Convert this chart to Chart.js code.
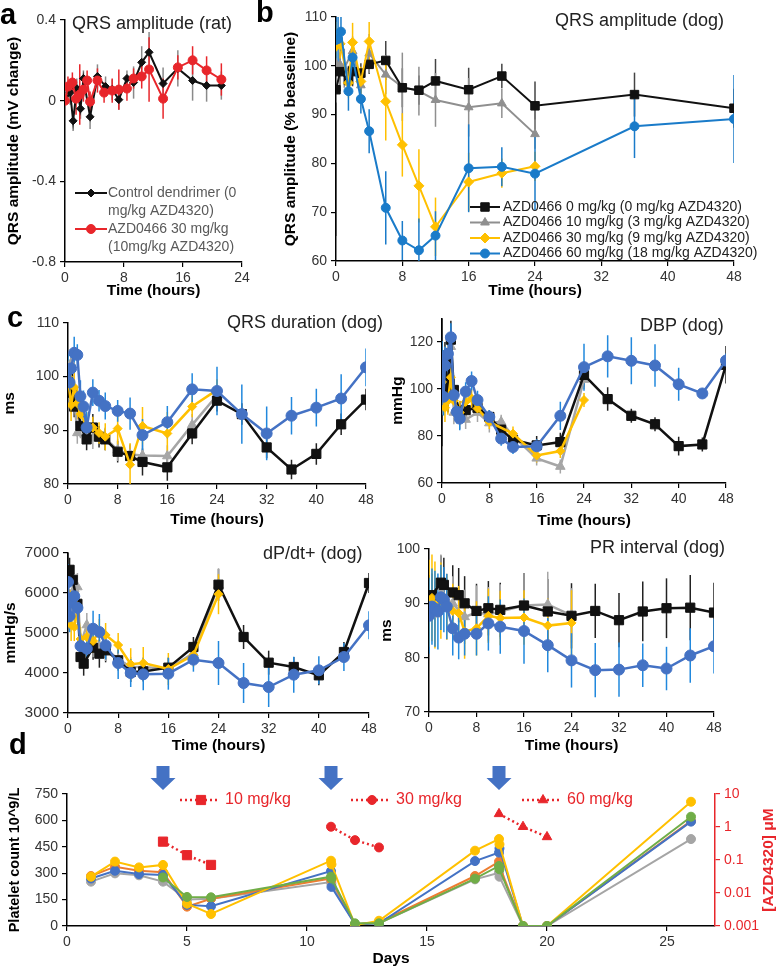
<!DOCTYPE html>
<html>
<head>
<meta charset="utf-8">
<script src="https://cdn.jsdelivr.net/npm/chart.js@4.4.1/dist/chart.umd.min.js"></script>
<style>
  body { margin: 0; width: 778px; height: 968px; position: relative; overflow: hidden; background: #fff;
         font-family: "Liberation Sans", Arial, sans-serif; }
  .box { position: absolute; }
  .letter { position: absolute; font-size: 29px; font-weight: bold; line-height: 1; color: #000; }
  .ttl { position: absolute; font-size: 18px; line-height: 1; color: #222; white-space: nowrap; }
</style>
</head>
<body>
<div class="box" style="left:0;top:0;width:262px;height:300px"><canvas id="ca"></canvas></div>
<div class="box" style="left:262px;top:0;width:516px;height:300px"><canvas id="cb"></canvas></div>
<div class="box" style="left:0;top:305px;width:390px;height:228px"><canvas id="c1"></canvas></div>
<div class="box" style="left:384px;top:305px;width:394px;height:228px"><canvas id="c2"></canvas></div>
<div class="box" style="left:0;top:535px;width:390px;height:224px"><canvas id="c3"></canvas></div>
<div class="box" style="left:376px;top:535px;width:402px;height:224px"><canvas id="c4"></canvas></div>
<div class="box" style="left:0;top:760px;width:778px;height:208px"><canvas id="cd"></canvas></div>

<div class="letter" style="left:0;top:0">a</div>
<div class="letter" style="left:256px;top:-2px">b</div>
<div class="letter" style="left:7px;top:303px">c</div>
<div class="letter" style="left:9px;top:730px">d</div>

<div class="ttl" style="left:72px;top:14px">QRS amplitude (rat)</div>
<div class="ttl" style="left:555px;top:11px">QRS amplitude (dog)</div>
<div class="ttl" style="left:227px;top:313px">QRS duration (dog)</div>
<div class="ttl" style="left:640px;top:316px">DBP (dog)</div>
<div class="ttl" style="left:263px;top:544px">dP/dt+ (dog)</div>
<div class="ttl" style="left:590px;top:538px">PR interval (dog)</div>

<script>
Chart.defaults.font.family = '"Liberation Sans", Arial, sans-serif';
Chart.defaults.color = '#333';

// ---- a: QRS amplitude (rat) ----
const aTicksY   = [-0.8, -0.4, 0, 0.4];
const aTimeCtrl = [0, 0.7, 1.1, 1.6, 2.1, 2.5, 3.4, 4.4, 5.5, 6.4, 7.3, 8.4, 9.3, 10.4, 11.4, 13.3, 15.3, 17.3, 19.2, 21.2];
const aCtrl     = [0, 0.04, -0.10, 0.06, -0.04, 0.11, -0.08, 0.12, 0.07, 0.055, 0.005, 0.11, 0.09, 0.19, 0.24, 0.085, 0.16, 0.10, 0.075, 0.075];
const aCtrlErr  = [0, 0.06, 0.05, 0.05, 0.05, 0.04, 0.06, 0.06, 0.05, 0.05, 0.05, 0.04, 0.08, 0.08, 0.1, 0.08, 0.09, 0.1, 0.08, 0.07];
const aTimeDrug = [0, 0.4, 1.0, 1.5, 2.0, 2.5, 3.0, 3.4, 4.4, 5.3, 6.4, 7.3, 8.4, 9.3, 10.4, 11.4, 13.3, 15.3, 17.3, 19.2, 21.2];
const aDrug     = [0, 0.07, 0.09, 0.01, 0.03, 0.055, 0.10, -0.005, 0.10, 0.04, 0.05, 0.055, 0.06, 0.11, 0.12, 0.155, 0.01, 0.165, 0.20, 0.15, 0.105];
const aDrugErr  = [0, 0.05, 0.05, 0.08, 0.15, 0.06, 0.05, 0.05, 0.06, 0.05, 0.06, 0.1, 0.06, 0.05, 0.06, 0.16, 0.1, 0.06, 0.07, 0.07, 0.08];

// ---- b: QRS amplitude (dog) ----
const bTimeBlk = [0, 0.5, 1.5, 2, 3, 4, 6, 8, 10, 12, 16, 20, 24, 36, 48];
const bBlk     = [95.1, 98.8, 97.0, 98.8, 98.5, 100.3, 101.1, 95.5, 95.0, 96.9, 95.1, 97.9, 91.8, 94.1, 91.3];
const bBlkErr  = [30, 4, 3, 3, 2, 2, 4, 4, 3, 4.5, 4.5, 2.5, 5, 4.5, 4];
const bTimeGry = [0, 0.5, 1, 2, 3, 4, 6, 8, 10, 12, 16, 20, 24];
const bGry     = [100.5, 100.2, 99.5, 103.0, 96.0, 102.5, 98.2, 95.7, 94.8, 93.0, 91.5, 92.3, 86.0];
const bGryErr  = [8, 5, 4, 3, 3, 4, 4, 7, 5, 5.5, 6, 3, 3];
const bTimeYel = [0, 0.5, 1.5, 2, 3, 4, 6, 8, 10, 12, 16, 20, 24];
const bYel     = [104.0, 104.5, 96.5, 104.8, 96.8, 105.0, 92.7, 83.8, 75.4, 67.0, 76.2, 78.0, 79.4];
const bYelErr  = [5, 3, 3, 4, 3, 4, 8, 6.5, 7.5, 6, 6, 3, 3];
const bTimeBlu = [0, 0.25, 0.6, 1.5, 2, 3, 4, 6, 8, 10, 12, 16, 20, 24, 36, 48];
const bBlu     = [105.3, 105.5, 107.0, 94.8, 101.7, 93.2, 86.6, 70.9, 64.2, 62.2, 65.2, 79.0, 79.3, 77.9, 87.6, 89.1];
const bBluErr  = [5, 5, 4, 4, 3, 3, 4.5, 7.5, 4, 6.5, 5, 9, 4, 7.5, 6.5, 9];

// ---- c: QRS duration (dog) ----
const qTimeBlk = [0, 0.5, 1, 1.5, 2, 3, 4, 5, 6, 8, 10, 12, 16, 20, 24, 28, 32, 36, 40, 44, 48];
const qBlk     = [100.2, 97.0, 94.4, 95.5, 90.8, 88.3, 90.5, 88.8, 88.3, 86.0, 85.2, 84.1, 83.1, 89.4, 95.5, 93.0, 86.8, 82.7, 85.6, 91.1, 95.7];
const qBlkErr  = [2, 2, 2, 2, 2, 2, 2.5, 2, 2, 2, 2, 2.5, 2.5, 2, 2, 2, 2, 1.8, 2, 2, 2];
const qTimeGry = [0, 0.5, 1, 1.5, 2, 3, 4, 6, 8, 10, 12, 16, 20, 24];
const qGry     = [101, 102.5, 96, 89.5, 90.5, 89.5, 88.5, 88.5, 86.3, 85.5, 85.3, 85.2, 91, 96.5];
const qGryErr  = [2.5, 2.5, 2.5, 2, 2, 2, 2, 2, 2, 2, 2, 2, 2, 2];
const qTimeYel = [0, 0.5, 1, 1.5, 2, 3, 4, 5, 6, 8, 10, 12, 16, 20, 24];
const qYel     = [100, 94.7, 98, 95, 93, 90.8, 90.5, 89.5, 88.8, 90.3, 83.6, 90.8, 89.4, 94.4, 97.5];
const qYelErr  = [3, 3, 3, 3, 2.5, 2.5, 2, 2, 2.5, 3, 4, 3.5, 4, 2, 2];
const qTimeBlu = [0, 0.25, 0.5, 1, 1.5, 2, 2.5, 3, 4, 5, 6, 8, 10, 12, 16, 20, 24, 28, 32, 36, 40, 44, 48];
const qBlu     = [101.2, 98.9, 101.5, 104.4, 104.0, 96.3, 94.4, 90.5, 97.0, 95.5, 94.5, 93.6, 93.1, 89.1, 91.5, 97.6, 97.3, 93.0, 89.4, 92.7, 94.2, 95.9, 101.7];
const qBluErr  = [3, 3, 3, 3, 2, 3, 3, 3, 2.5, 2, 2.5, 2, 3, 3, 3, 3, 4.5, 5.5, 5, 3.5, 3.5, 4.5, 3.5];

// ---- c: DBP (dog) ----
const dbTicksY  = [60, 80, 100, 120];
const dbTimeBlk = [0, 0.5, 1, 1.5, 2, 3, 4, 6, 8, 10, 12, 16, 20, 24, 28, 32, 36, 40, 44, 48];
const dbBlk     = [105.6, 110, 100, 121, 99.6, 89.9, 91, 92, 88.1, 82.7, 78.4, 76, 77.4, 106, 95.7, 88.6, 85, 75.7, 76.4, 110.3];
const dbBlkErr  = [30, 10, 10, 8, 6, 5, 4, 3, 3, 3, 3, 4, 4, 5, 5, 3, 3, 4, 3, 8];
const dbTimeGry = [0, 0.5, 1, 1.5, 2, 3, 4, 6, 8, 10, 12, 16, 20, 24];
const dbGry     = [97, 110, 100, 118, 90, 88, 87, 90, 85.5, 86, 80, 70.5, 67, 104];
const dbGryErr  = [8, 8, 6, 6, 5, 5, 4, 4, 4, 3, 3, 3, 3, 4];
const dbTimeYel = [0, 0.5, 1, 1.5, 2, 3, 4, 5, 6, 8, 12, 16, 20, 24];
const dbYel     = [103, 92, 95, 105, 95, 90, 94.5, 96, 91.7, 86, 81, 71.7, 73.6, 95.3];
const dbYelErr  = [8, 6, 6, 6, 5, 5, 4, 4, 3, 3, 3, 3, 3, 3];
const dbTimeBlu = [0, 0.25, 0.5, 1, 1.5, 2, 2.5, 3, 4, 5, 6, 8, 10, 12, 16, 20, 24, 28, 32, 36, 40, 44, 48];
const dbBlu     = [112.4, 96.7, 110, 115, 122, 97.4, 90.3, 87.4, 98.9, 103.4, 95.3, 88.1, 78.9, 75.3, 75.6, 88.6, 109.3, 113.9, 112, 110, 102, 98.1, 112.1];
const dbBluErr  = [8, 8, 8, 8, 6, 6, 5, 5, 4, 4, 4, 3, 3, 3, 3, 6, 10, 9, 10, 9, 7, 2, 3];

// ---- c: dP/dt+ (dog) ----
const dpTimeBlk = [0, 0.25, 0.75, 1.5, 2, 2.5, 4, 5, 6, 8, 10, 12, 16, 20, 24, 28, 32, 36, 40, 44, 48];
const dpBlk     = [6550, 6580, 6330, 5730, 4400, 4233, 4633, 4483, 4567, 4317, 4025, 4040, 4133, 4650, 6208, 4900, 4258, 4150, 3942, 4525, 6250];
const dpBlkErr  = [450, 300, 300, 300, 250, 300, 300, 350, 300, 250, 250, 250, 250, 250, 400, 300, 300, 250, 250, 250, 250];
const dpTimeGry = [0, 0.5, 1, 1.5, 2, 3, 4, 5, 6, 8, 10, 12, 16, 20, 24];
const dpGry     = [5900, 5500, 6100, 6150, 4700, 5200, 4700, 4650, 4600, 4350, 4150, 4150, 4100, 4500, 6200];
const dpGryErr  = [400, 400, 350, 350, 300, 300, 300, 300, 300, 300, 250, 250, 250, 250, 400];
const dpTimeYel = [0, 0.5, 1, 1.5, 2, 3, 4, 5, 6, 8, 10, 12, 16, 20, 24];
const dpYel     = [6000, 5200, 5150, 5600, 4850, 4900, 4800, 5050, 4950, 4700, 4220, 4250, 4100, 4450, 5970];
const dpYelErr  = [400, 400, 350, 350, 300, 300, 300, 300, 300, 300, 400, 400, 400, 300, 500];
const dpTimeBlu = [0, 0.25, 0.5, 1, 1.5, 2, 3, 4, 5, 6, 8, 10, 12, 16, 20, 24, 28, 32, 36, 40, 44, 48];
const dpBlu     = [6275, 5420, 5780, 5920, 5630, 4675, 4608, 5108, 5025, 4690, 4250, 4000, 3967, 3983, 4333, 4250, 3750, 3650, 3958, 4067, 4400, 5192];
const dpBluErr  = [450, 400, 300, 300, 300, 300, 250, 450, 450, 350, 400, 350, 400, 400, 300, 550, 500, 500, 450, 350, 350, 350];

// ---- c: PR interval (dog) ----
const prTimeBlk = [0, 0.5, 2, 2.5, 4, 5, 6, 8, 10, 12, 16, 20, 24, 28, 32, 36, 40, 44, 48];
const prBlk     = [91.2, 91.5, 93.8, 93.4, 92, 91.5, 90, 88.6, 89.1, 88.8, 89.6, 88.5, 87.7, 88.6, 86.9, 88.5, 89.1, 89.2, 88.3];
const prBlkErr  = [4, 4, 5, 5, 5, 5, 5, 5, 5, 5, 6, 6, 6, 5, 5, 5.5, 5.5, 6, 5.5];
const prTimeGry = [0, 1, 2, 3, 4, 6, 8, 10, 12, 16, 20, 24];
const prGry     = [88, 88, 93, 90.5, 90, 87.5, 88.3, 88, 88.5, 89.6, 89.8, 87.8];
const prGryErr  = [6, 6, 6, 5, 5, 5, 5, 5, 5, 6, 6, 5];
const prTimeYel = [0, 0.5, 1, 2, 3, 4, 5, 6, 8, 10, 12, 16, 20, 24];
const prYel     = [90, 91, 89.7, 90.5, 89.3, 88.6, 88.2, 84.8, 85.4, 87.7, 87.3, 87.4, 85.9, 86.4];
const prYelErr  = [8, 8, 8, 7, 6, 5, 5, 5, 5, 5, 5, 5, 5, 6];
const prTimeBlu = [0, 0.5, 1, 1.5, 2, 2.5, 3, 4, 5, 6, 8, 10, 12, 16, 20, 24, 28, 32, 36, 40, 44, 48];
const prBlu     = [87.7, 89.4, 89, 88.5, 91.1, 90.7, 89.4, 85.4, 83.7, 84.4, 84.4, 86.3, 85.7, 84.9, 82.3, 79.5, 77.7, 77.8, 78.6, 78, 80.4, 82.1];
const prBluErr  = [7, 7, 7, 7, 6, 6, 6, 5, 4, 4, 4, 5, 5, 6, 5, 5, 5, 5, 4, 4, 5, 5];

// ---- d: platelets and AZD4320 ----
const dDays    = [1, 2, 3, 4, 5, 6, 11, 11.02, 12, 13, 17, 18, 18.02, 19, 20, 26];
const dBlue    = [270, 314, 295, 290, 120, 112, 312, 222, 10, 15, 369, 417, 441, 0, 0, 593];
const dOrange  = [284, 337, 314, 305, 110, 155, 270, 262, 10, 20, 284, 366, 340, 0, 0, 597];
const dGrey    = [252, 299, 288, 252, 150, 155, 250, 240, 10, 15, 265, 303, 280, 0, 0, 494];
const dYellow  = [280, 366, 333, 347, 127, 68, 371, 350, 5, 30, 428, 494, 464, 0, 0, 706];
const dGreen   = [null, null, null, 276, 165, 163, 280, 270, 15, 15, 269, 341, 322, 0, 0, 621];
const dConcDays10 = [4, 5, 6],   dConc10 = [0.36, 0.14, 0.071];
const dConcDays30 = [11, 12, 13], dConc30 = [1.02, 0.40, 0.24];
const dConcDays60 = [18, 19, 20], dConc60 = [2.5, 1.02, 0.5];
const dDoseDays   = [4, 11, 18];
const dDoseLabels = ['10 mg/kg', '30 mg/kg', '60 mg/kg'];
const dConcTicks  = [0.001, 0.01, 0.1, 1, 10];

const FONT = '"Liberation Sans", Arial, sans-serif';
const RED = '#e8262b';

function pts(xs, ys) { return xs.map((x, i) => ({ x: x, y: ys[i] })); }

function series(label, xs, ys, err, st) {
  return {
    label: label, data: pts(xs, ys), err: err, errColor: st.errColor || st.color,
    borderColor: st.color, backgroundColor: st.color,
    pointBackgroundColor: st.color, pointBorderColor: st.color, pointBorderWidth: 1,
    borderWidth: st.lw || 2, borderDash: st.dash || [],
    pointStyle: st.shape, pointRadius: st.r, tension: 0, spanGaps: true,
    order: st.order || 0, yAxisID: st.axis || 'y'
  };
}

// vertical error bars drawn through the y scale of each dataset
const errorBars = {
  id: 'errorBars',
  beforeDatasetsDraw(chart) {
    const { ctx, chartArea } = chart;
    ctx.save();
    ctx.beginPath();
    ctx.rect(chartArea.left, chartArea.top, chartArea.right - chartArea.left, chartArea.bottom - chartArea.top);
    ctx.clip();
    const n = chart.data.datasets.length;
    for (let di = n - 1; di >= 0; di--) {
      const ds = chart.data.datasets[di];
      if (!ds.err) continue;
      const meta = chart.getDatasetMeta(di);
      const ys = chart.scales[meta.yAxisID];
      ctx.strokeStyle = ds.errColor;
      ctx.lineWidth = 1.5;
      meta.data.forEach((el, i) => {
        const v = ds.data[i], e = ds.err[i];
        if (!e || v.y == null) return;
        ctx.beginPath();
        ctx.moveTo(el.x, ys.getPixelForValue(v.y - e));
        ctx.lineTo(el.x, ys.getPixelForValue(v.y + e));
        ctx.stroke();
      });
    }
    ctx.restore();
  }
};

function insideLegend(cfg) {
  return {
    id: 'insideLegend',
    afterDatasetsDraw(chart) {
      const { ctx, chartArea } = chart;
      ctx.save();
      ctx.font = '14px ' + FONT;
      ctx.textBaseline = 'middle';
      cfg.items.forEach(it => {
        const ds = chart.data.datasets[it.ds];
        const y = chartArea.top + cfg.top + it.row * cfg.rowH;
        const x0 = chartArea.left + cfg.left;
        ctx.strokeStyle = ds.borderColor;
        ctx.fillStyle = ds.borderColor;
        ctx.lineWidth = ds.borderWidth;
        ctx.beginPath(); ctx.moveTo(x0, y); ctx.lineTo(x0 + cfg.lineLen, y); ctx.stroke();
        ctx.lineWidth = 1;
        Chart.helpers.drawPoint(ctx, { pointStyle: ds.pointStyle, radius: ds.pointRadius, rotation: 0, borderWidth: 1 }, x0 + cfg.lineLen / 2, y);
        ctx.fillStyle = cfg.color;
        it.text.forEach((t, j) => ctx.fillText(t, x0 + cfg.lineLen + cfg.gap, y + j * cfg.rowH));
      });
      ctx.restore();
    }
  };
}

function axes(o) {
  const tickFont = { size: o.tickSize || 14 };
  const grid = { drawOnChartArea: false, color: '#000', tickLength: 5, lineWidth: 1.2 };
  const x = {
    type: 'linear', min: 0, max: o.xMax,
    ticks: { stepSize: o.xStep, font: { size: 14 }, color: '#333', maxRotation: 0, padding: 3 },
    grid: grid, border: { color: '#000', width: 1.5 },
    title: { display: true, text: o.xTitle, color: '#000', font: { size: 15.5, weight: 'bold' }, padding: { top: 0, bottom: o.xTitlePad || 0 } },
    afterFit: s => { s.height = o.xH; }
  };
  if (o.xFilter) x.afterBuildTicks = s => { s.ticks = s.ticks.filter(t => o.xFilter(t.value)); };
  const y = {
    min: o.yMin, max: o.yMax,
    ticks: { stepSize: o.yStep, font: tickFont, color: '#333', padding: 4, callback: v => String(v) },
    grid: grid, border: { color: '#000', width: 1.5 },
    title: { display: true, text: o.yTitle, color: '#000', font: { size: o.yTitleSize || 15.5, weight: 'bold' }, padding: { top: o.yTitlePad || 0, bottom: 0 } },
    afterFit: s => { s.width = o.yW; }
  };
  if (o.yTicks) y.afterBuildTicks = s => { s.ticks = o.yTicks.map(v => ({ value: v })); };
  return { x: x, y: y };
}

function makeChart(id, datasets, o, extra) {
  const scales = axes(o);
  if (o.more) Object.assign(scales, o.more);
  return new Chart(document.getElementById(id), {
    type: 'line',
    data: { datasets: datasets },
    options: {
      responsive: true, maintainAspectRatio: false, animation: false,
      layout: { padding: { top: o.padT, right: o.padR, left: 0, bottom: 0 } },
      plugins: { legend: { display: false }, tooltip: { enabled: false } },
      scales: scales
    },
    plugins: [errorBars].concat(extra || [])
  });
}

// ---------- a ----------
makeChart('ca', [
  series('AZD0466 30 mg/kg (10mg/kg AZD4320)', aTimeDrug, aDrug, aDrugErr, { color: RED, shape: 'circle', r: 4.5, order: 0 }),
  series('Control dendrimer (0 mg/kg AZD4320)', aTimeCtrl, aCtrl, aCtrlErr, { color: '#111', errColor: '#8a8a8a', shape: 'rectRot', r: 4, order: 1 })
], { xMax: 24, xStep: 8, yMin: -0.8, yMax: 0.4, yTicks: aTicksY, xTitle: 'Time (hours)', yTitle: 'QRS amplitude (mV change)',
     yW: 65, xH: 38, padT: 20, padR: 20, yTitlePad: 4 },
  [insideLegend({ left: 10, top: 173, rowH: 18, lineLen: 32, gap: 1, color: '#595959', items: [
    { ds: 1, row: 0, text: ['Control dendrimer (0', 'mg/kg AZD4320)'] },
    { ds: 0, row: 2, text: ['AZD0466 30 mg/kg', '(10mg/kg AZD4320)'] }
  ] })]);

// ---------- b ----------
makeChart('cb', [
  series('AZD0466 60 mg/kg (18 mg/kg AZD4320)', bTimeBlu, bBlu, bBluErr, { color: '#1a7bc9', shape: 'circle', r: 4.5, order: 0 }),
  series('AZD0466 30 mg/kg (9 mg/kg AZD4320)', bTimeYel, bYel, bYelErr, { color: '#ffc000', shape: 'rectRot', r: 5, order: 1 }),
  series('AZD0466 10 mg/kg (3 mg/kg AZD4320)', bTimeGry, bGry, bGryErr, { color: '#8f8f8f', shape: 'triangle', r: 5, order: 3 }),
  series('AZD0466 0 mg/kg (0 mg/kg AZD4320)', bTimeBlk, bBlk, bBlkErr, { color: '#111', errColor: '#444', shape: 'rect', r: 6, order: 2 })
], { xMax: 48, xStep: 8, yMin: 60, yMax: 110, yStep: 10, xTitle: 'Time (hours)', yTitle: 'QRS amplitude (% beaseline)',
     yW: 74, xH: 39, padT: 17, padR: 44, yTitlePad: 19 },
  [insideLegend({ left: 134, top: 190, rowH: 15.5, lineLen: 30, gap: 3, color: '#222', items: [
    { ds: 3, row: 0, text: ['AZD0466 0 mg/kg (0 mg/kg AZD4320)'] },
    { ds: 2, row: 1, text: ['AZD0466 10 mg/kg (3 mg/kg AZD4320)'] },
    { ds: 1, row: 2, text: ['AZD0466 30 mg/kg (9 mg/kg AZD4320)'] },
    { ds: 0, row: 3, text: ['AZD0466 60 mg/kg (18 mg/kg AZD4320)'] }
  ] })]);

// ---------- c: four dog panels ----------
const BLU = { color: '#4472c4', errColor: '#2188dd', shape: 'circle', r: 5.5, lw: 2.5, order: 0 };
const YEL = { color: '#ffc000', shape: 'rectRot', r: 4.5, lw: 2.5, order: 1 };
const GRY = { color: '#a6a6a6', shape: 'triangle', r: 5.5, lw: 2.5, order: 3 };
const BLK = { color: '#111', errColor: '#222', shape: 'rect', r: 6.5, lw: 2.5, order: 2 };

makeChart('c1', [
  series('60', qTimeBlu, qBlu, qBluErr, BLU),
  series('30', qTimeYel, qYel, qYelErr, YEL),
  series('10', qTimeGry, qGry, qGryErr, GRY),
  series('0', qTimeBlk, qBlk, qBlkErr, BLK)
], { xMax: 48, xStep: 8, yMin: 80, yMax: 110, yStep: 10, xTitle: 'Time (hours)', yTitle: 'ms',
     yW: 68, xH: 49, padT: 17.7, padR: 24, yTitlePad: 0, xTitlePad: 4 });

makeChart('c2', [
  series('60', dbTimeBlu, dbBlu, dbBluErr, BLU),
  series('30', dbTimeYel, dbYel, dbYelErr, YEL),
  series('10', dbTimeGry, dbGry, dbGryErr, GRY),
  series('0', dbTimeBlk, dbBlk, dbBlkErr, BLK)
], { xMax: 48, xStep: 8, yMin: 60, yMax: 130, yTicks: dbTicksY,
     xTitle: 'Time (hours)', yTitle: 'mmHg', yW: 58, xH: 50, padT: 13.5, padR: 52, yTitlePad: 4, xTitlePad: 3 });

makeChart('c3', [
  series('60', dpTimeBlu, dpBlu, dpBluErr, BLU),
  series('30', dpTimeYel, dpYel, dpYelErr, YEL),
  series('10', dpTimeGry, dpGry, dpGryErr, GRY),
  series('0', dpTimeBlk, dpBlk, dpBlkErr, BLK)
], { xMax: 48, xStep: 8, yMin: 3000, yMax: 7000, yStep: 1000, tickSize: 15.5, xTitle: 'Time (hours)', yTitle: 'mmHg/s',
     yW: 68, xH: 46, padT: 18, padR: 21, yTitlePad: 1, xTitlePad: 4 });

makeChart('c4', [
  series('60', prTimeBlu, prBlu, prBluErr, BLU),
  series('30', prTimeYel, prYel, prYelErr, YEL),
  series('10', prTimeGry, prGry, prGryErr, GRY),
  series('0', prTimeBlk, prBlk, prBlkErr, BLK)
], { xMax: 48, xStep: 8, yMin: 70, yMax: 100, yStep: 10, xTitle: 'Time (hours)', yTitle: 'ms',
     yW: 53, xH: 47, padT: 14, padR: 64, yTitlePad: 1, xTitlePad: 4 });

// ---------- d ----------
const doseMarks = {
  id: 'doseMarks',
  afterDatasetsDraw(chart) {
    const { ctx, chartArea, scales } = chart;
    const styles = ['rect', 'circle', 'triangle'];
    const radii = [6.5, 4.5, 5.5];
    ctx.save();
    dDoseDays.forEach((day, i) => {
      const ax = scales.x.getPixelForValue(day);
      // blue block arrow above the plot
      const top = chartArea.top - 28, mid = chartArea.top - 16, tip = chartArea.top - 4;
      ctx.fillStyle = '#4472c4';
      ctx.beginPath();
      ctx.moveTo(ax - 6.5, top); ctx.lineTo(ax + 6.5, top); ctx.lineTo(ax + 6.5, mid);
      ctx.lineTo(ax + 12.5, mid); ctx.lineTo(ax, tip); ctx.lineTo(ax - 12.5, mid);
      ctx.lineTo(ax - 6.5, mid); ctx.closePath(); ctx.fill();
      // dose key: dotted line, marker and label
      const mx = ax + 38 + i * 3, my = chartArea.top + 6;
      ctx.strokeStyle = RED; ctx.fillStyle = RED; ctx.lineWidth = 2.5;
      ctx.setLineDash([2, 3]);
      ctx.beginPath(); ctx.moveTo(mx - 21, my); ctx.lineTo(mx + 18, my); ctx.stroke();
      ctx.setLineDash([]);
      ctx.lineWidth = 1;
      Chart.helpers.drawPoint(ctx, { pointStyle: styles[i], radius: radii[i], rotation: 0, borderWidth: 1 }, mx, my);
      ctx.font = '16px ' + FONT;
      ctx.textBaseline = 'middle';
      ctx.fillText(dDoseLabels[i], mx + 24, my);
    });
    // right axis title, reading bottom to top
    const cy = (chartArea.top + chartArea.bottom) / 2;
    ctx.translate(chart.width - 9, cy);
    ctx.rotate(-Math.PI / 2);
    ctx.font = 'bold 15.5px ' + FONT;
    ctx.textAlign = 'center'; ctx.textBaseline = 'middle';
    ctx.fillStyle = RED;
    ctx.fillText('[AZD4320] \u03bcM', 0, 0);
    ctx.restore();
  }
};

const conc = { color: RED, lw: 2.5, dash: [2, 3], axis: 'y2', order: 0 };
makeChart('cd', [
  series('10 mg/kg', dConcDays10, dConc10, null, Object.assign({ shape: 'rect', r: 6.5 }, conc)),
  series('30 mg/kg', dConcDays30, dConc30, null, Object.assign({ shape: 'circle', r: 4.5 }, conc)),
  series('60 mg/kg', dConcDays60, dConc60, null, Object.assign({ shape: 'triangle', r: 5.5 }, conc)),
  series('green', dDays, dGreen, null, { color: '#70ad47', shape: 'circle', r: 4.5, order: 1 }),
  series('yellow', dDays, dYellow, null, { color: '#ffc000', shape: 'circle', r: 4.5, order: 2 }),
  series('blue', dDays, dBlue, null, { color: '#4472c4', shape: 'circle', r: 4.5, order: 3 }),
  series('orange', dDays, dOrange, null, { color: '#ed7d31', shape: 'circle', r: 4.5, order: 4 }),
  series('grey', dDays, dGrey, null, { color: '#a5a5a5', shape: 'circle', r: 4.5, order: 5 })
], { xMax: 27, xStep: 5, xFilter: v => v % 5 === 0, yMin: 0, yMax: 750, yStep: 150,
     xTitle: 'Days', yTitle: 'Platelet count 10^9/L', yTitleSize: 14.5, yW: 67, xH: 42, padT: 34, padR: 0, yTitlePad: 6,
     more: {
       y2: {
         type: 'logarithmic', position: 'right', min: 0.001, max: 10,
         afterBuildTicks: s => { s.ticks = dConcTicks.map(v => ({ value: v })); },
         ticks: { color: RED, font: { size: 14 }, padding: 4, callback: v => String(v) },
         grid: { drawOnChartArea: false, color: RED, tickLength: 5, lineWidth: 1.2 },
         border: { color: RED, width: 1.5 },
         afterFit: s => { s.width = 63; }
       }
     } },
  [doseMarks]);
</script>
</body>
</html>
